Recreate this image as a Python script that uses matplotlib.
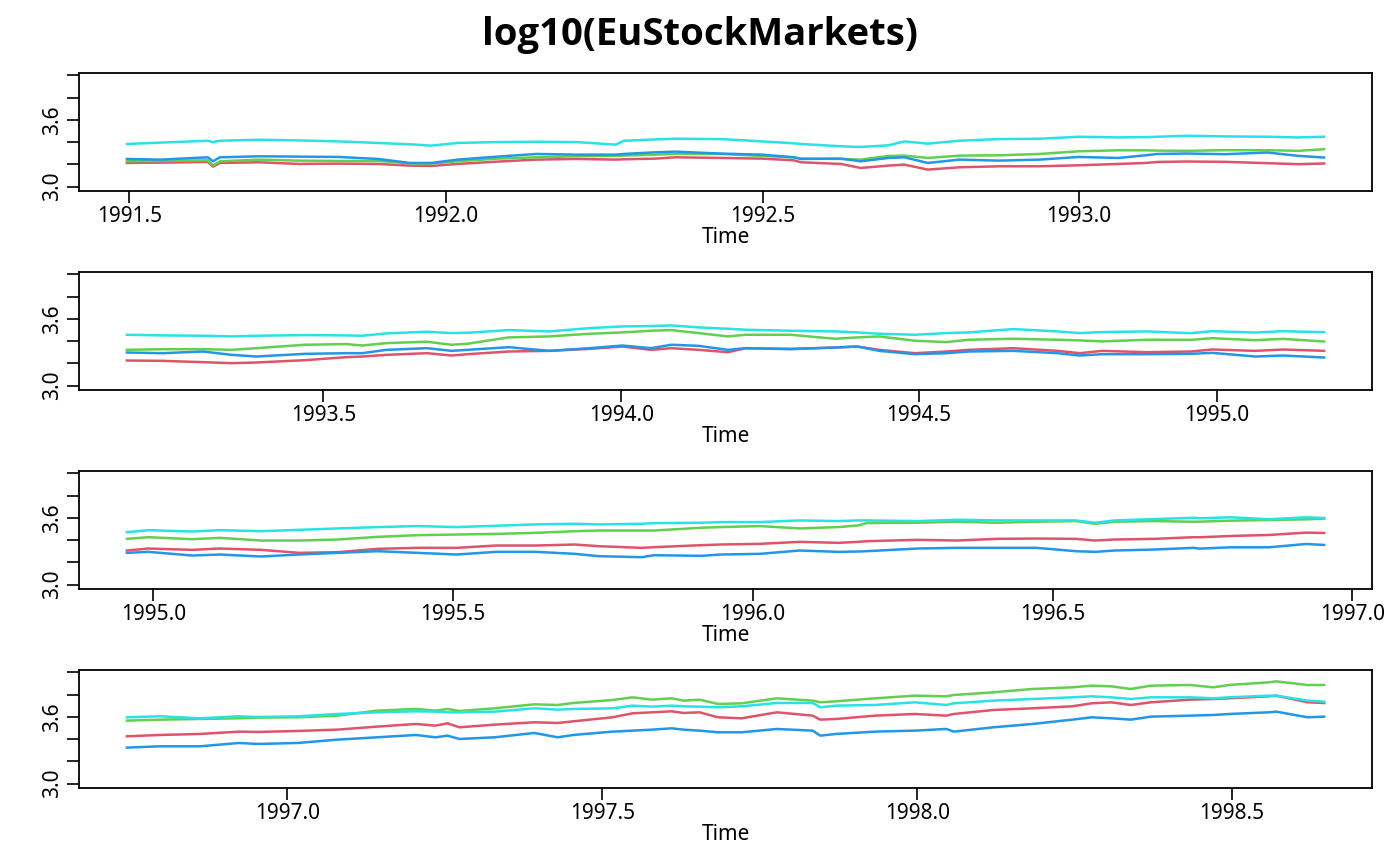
import numpy as np
import matplotlib.pyplot as plt

# log10 of the four indices
year = np.array([
    1991.496, 1991.549, 1991.624, 1991.632, 1991.643, 1991.705, 1991.768, 1991.830, 1991.893, 1991.943,
    1991.977, 1992.018, 1992.081, 1992.143, 1992.206, 1992.268, 1992.281, 1992.331, 1992.362, 1992.436,
    1992.499, 1992.549, 1992.561, 1992.624, 1992.655, 1992.699, 1992.724, 1992.761, 1992.811, 1992.874,
    1992.937, 1993.000, 1993.062, 1993.105, 1993.124,
    1993.170, 1993.230, 1993.298, 1993.346, 1993.387, 1993.469, 1993.538, 1993.565, 1993.606, 1993.674,
    1993.715, 1993.742, 1993.811, 1993.879, 1993.947, 1994.002, 1994.050, 1994.084, 1994.130,
    1994.179, 1994.209, 1994.284, 1994.359, 1994.396, 1994.433, 1994.493, 1994.546, 1994.583, 1994.658,
    1994.732, 1994.770, 1994.807, 1994.882,
    1994.956, 1994.992, 1995.065, 1995.111, 1995.180, 1995.243, 1995.308, 1995.374, 1995.440, 1995.506,
    1995.572, 1995.638, 1995.703, 1995.743, 1995.815, 1995.835, 1995.914, 1995.946,
    1996.012, 1996.078, 1996.143, 1996.176, 1996.190, 1996.275, 1996.341, 1996.407, 1996.473, 1996.539,
    1996.571, 1996.604, 1996.670, 1996.736,
    1996.745, 1996.798, 1996.861, 1996.923, 1996.953, 1997.017, 1997.079, 1997.142, 1997.204, 1997.235,
    1997.254, 1997.273, 1997.329, 1997.392, 1997.429, 1997.454, 1997.516, 1997.548, 1997.579, 1997.610,
    1997.629, 1997.654, 1997.684,
    1997.721, 1997.777, 1997.834, 1997.846, 1997.871, 1997.933, 1997.996, 1998.046, 1998.058, 1998.121,
    1998.183, 1998.246, 1998.277, 1998.308, 1998.339, 1998.371, 1998.433, 1998.470, 1998.495, 1998.558,
    1998.570, 1998.620, 1998.646,
])

dax = np.array([
    3.212, 3.215, 3.221, 3.179, 3.212, 3.218, 3.203, 3.206, 3.203, 3.188,
    3.185, 3.203, 3.224, 3.242, 3.248, 3.242, 3.245, 3.251, 3.263, 3.257,
    3.251, 3.236, 3.218, 3.203, 3.167, 3.188, 3.197, 3.152, 3.173, 3.182,
    3.182, 3.191, 3.203, 3.212, 3.221,
    3.225, 3.222, 3.210, 3.201, 3.207, 3.228, 3.255, 3.261, 3.276, 3.291,
    3.270, 3.282, 3.306, 3.312, 3.330, 3.351, 3.321, 3.336, 3.321,
    3.300, 3.336, 3.330, 3.342, 3.351, 3.321, 3.291, 3.306, 3.321, 3.336,
    3.312, 3.291, 3.312, 3.300,
    3.306, 3.324, 3.312, 3.324, 3.312, 3.285, 3.291, 3.321, 3.330, 3.330,
    3.351, 3.351, 3.360, 3.345, 3.330, 3.336, 3.354, 3.360,
    3.366, 3.384, 3.375, 3.384, 3.390, 3.402, 3.396, 3.411, 3.414, 3.411,
    3.396, 3.405, 3.411, 3.426,
    3.425, 3.437, 3.446, 3.467, 3.464, 3.473, 3.485, 3.512, 3.536, 3.521,
    3.542, 3.506, 3.530, 3.551, 3.545, 3.560, 3.596, 3.632, 3.641, 3.650,
    3.635, 3.641, 3.596,
    3.587, 3.641, 3.611, 3.575, 3.581, 3.611, 3.626, 3.611, 3.626, 3.662,
    3.677, 3.695, 3.722, 3.731, 3.707, 3.731, 3.755, 3.761, 3.767, 3.785,
    3.791, 3.731, 3.725,
])

smi = np.array([
    3.227, 3.230, 3.236, 3.191, 3.227, 3.242, 3.233, 3.230, 3.230, 3.209,
    3.206, 3.227, 3.251, 3.263, 3.272, 3.275, 3.278, 3.287, 3.293, 3.293,
    3.275, 3.263, 3.251, 3.248, 3.242, 3.275, 3.278, 3.257, 3.278, 3.281,
    3.293, 3.317, 3.326, 3.326, 3.323,
    3.321, 3.327, 3.327, 3.321, 3.336, 3.367, 3.373, 3.360, 3.382, 3.394,
    3.367, 3.376, 3.433, 3.442, 3.466, 3.478, 3.493, 3.499, 3.472,
    3.442, 3.457, 3.457, 3.421, 3.433, 3.442, 3.403, 3.391, 3.412, 3.421,
    3.412, 3.406, 3.397, 3.412,
    3.411, 3.426, 3.408, 3.420, 3.396, 3.396, 3.405, 3.429, 3.444, 3.450,
    3.456, 3.465, 3.480, 3.486, 3.486, 3.486, 3.511, 3.517,
    3.526, 3.505, 3.517, 3.532, 3.553, 3.556, 3.565, 3.556, 3.565, 3.571,
    3.547, 3.565, 3.571, 3.565,
    3.566, 3.575, 3.581, 3.587, 3.593, 3.596, 3.611, 3.656, 3.671, 3.656,
    3.671, 3.653, 3.677, 3.713, 3.707, 3.725, 3.752, 3.776, 3.755, 3.767,
    3.746, 3.755, 3.716,
    3.722, 3.767, 3.746, 3.731, 3.740, 3.767, 3.791, 3.785, 3.797, 3.821,
    3.851, 3.866, 3.881, 3.875, 3.851, 3.881, 3.887, 3.866, 3.887, 3.911,
    3.920, 3.887, 3.887,
])

cac = np.array([
    3.248, 3.242, 3.263, 3.227, 3.263, 3.272, 3.269, 3.266, 3.248, 3.212,
    3.212, 3.242, 3.269, 3.293, 3.287, 3.287, 3.293, 3.308, 3.314, 3.296,
    3.287, 3.263, 3.248, 3.251, 3.227, 3.257, 3.263, 3.212, 3.242, 3.233,
    3.242, 3.266, 3.257, 3.281, 3.293,
    3.297, 3.291, 3.306, 3.276, 3.261, 3.285, 3.291, 3.291, 3.321, 3.336,
    3.312, 3.321, 3.345, 3.312, 3.336, 3.360, 3.336, 3.367, 3.357,
    3.321, 3.336, 3.327, 3.342, 3.351, 3.312, 3.282, 3.291, 3.306, 3.312,
    3.291, 3.270, 3.282, 3.282,
    3.285, 3.294, 3.261, 3.270, 3.252, 3.270, 3.285, 3.300, 3.285, 3.270,
    3.294, 3.294, 3.276, 3.255, 3.246, 3.264, 3.258, 3.270,
    3.276, 3.306, 3.294, 3.297, 3.300, 3.324, 3.330, 3.330, 3.330, 3.300,
    3.294, 3.306, 3.315, 3.330,
    3.323, 3.335, 3.335, 3.365, 3.356, 3.365, 3.395, 3.416, 3.437, 3.416,
    3.431, 3.401, 3.416, 3.455, 3.416, 3.437, 3.467, 3.476, 3.485, 3.497,
    3.485, 3.476, 3.461,
    3.461, 3.491, 3.476, 3.431, 3.446, 3.467, 3.476, 3.491, 3.467, 3.506,
    3.536, 3.575, 3.596, 3.587, 3.575, 3.602, 3.611, 3.617, 3.626, 3.641,
    3.647, 3.596, 3.602,
])

ftse = np.array([
    3.383, 3.395, 3.412, 3.400, 3.412, 3.421, 3.415, 3.406, 3.392, 3.380,
    3.368, 3.392, 3.400, 3.403, 3.400, 3.377, 3.412, 3.424, 3.430, 3.427,
    3.406, 3.389, 3.383, 3.362, 3.356, 3.371, 3.406, 3.386, 3.412, 3.427,
    3.430, 3.448, 3.442, 3.445, 3.448,
    3.457, 3.451, 3.448, 3.442, 3.448, 3.454, 3.451, 3.448, 3.469, 3.484,
    3.472, 3.475, 3.499, 3.487, 3.517, 3.532, 3.535, 3.541, 3.523,
    3.511, 3.502, 3.493, 3.487, 3.478, 3.466, 3.457, 3.472, 3.478, 3.508,
    3.487, 3.472, 3.481, 3.487,
    3.471, 3.489, 3.477, 3.489, 3.480, 3.492, 3.505, 3.517, 3.526, 3.517,
    3.529, 3.541, 3.547, 3.541, 3.547, 3.553, 3.556, 3.562,
    3.562, 3.577, 3.571, 3.577, 3.577, 3.571, 3.583, 3.577, 3.577, 3.577,
    3.556, 3.577, 3.589, 3.601,
    3.596, 3.605, 3.587, 3.605, 3.599, 3.605, 3.626, 3.641, 3.650, 3.647,
    3.641, 3.641, 3.647, 3.677, 3.665, 3.671, 3.677, 3.701, 3.692, 3.701,
    3.695, 3.692, 3.686,
    3.695, 3.725, 3.725, 3.686, 3.701, 3.707, 3.731, 3.707, 3.722, 3.746,
    3.761, 3.776, 3.785, 3.776, 3.761, 3.776, 3.776, 3.767, 3.776, 3.791,
    3.791, 3.746, 3.737,
])

# the four (overlapping) time windows, one per row
panel_start = [1991.496, 1993.170, 1994.956, 1996.745]
panel_end = [1993.387, 1995.180, 1996.953, 1998.646]

y_ticks = [3.0, 3.2, 3.4, 3.6, 3.8, 4.0]
y_labels = ["3.0", "", "", "3.6", "", ""]

series = [(dax, "#DF536B"), (smi, "#61D04F"), (cac, "#2297E6"), (ftse, "#28E2E5")]

plt.rcParams['font.family'] = ['Noto Sans', 'DejaVu Sans']

W, H = 1400, 866
fig = plt.figure(figsize=(W / 100, H / 100), dpi=100)
tops = [73, 272, 471, 670]
box_h = 117.5

for k in range(4):
    ax = fig.add_axes([79 / W, 1 - (tops[k] + box_h) / H, 1293 / W, box_h / H])
    sel = (year >= panel_start[k] - 1e-6) & (year <= panel_end[k] + 1e-6)
    for vals, col in series:
        ax.plot(year[sel], vals[sel], color=col, lw=1.8)
    span = panel_end[k] - panel_start[k]
    lo, hi = panel_start[k] - 0.04 * span, panel_end[k] + 0.04 * span
    ax.set_xlim(lo, hi)
    ax.set_ylim(2.964, 4.022)
    xt = np.arange(np.ceil(lo * 2) / 2, hi, 0.5)
    ax.set_xticks(xt)
    ax.set_xticklabels([f"{v:.1f}" for v in xt])
    ax.set_yticks(y_ticks)
    ax.set_yticklabels(y_labels, rotation=90, va="center")
    ax.tick_params(direction="out", length=8.5, width=1.2, labelsize=15, pad=3)
    for s in ax.spines.values():
        s.set_linewidth(1.3)
    ax.set_xlabel("Time", fontsize=15, labelpad=0)

fig.suptitle("log10(EuStockMarkets)", fontweight="bold", fontsize=27.5,
             family=["Open Sans", "Noto Sans", "DejaVu Sans"],
             y=1 - 35 / H, va="center")

fig.savefig("out.png", dpi=100)
